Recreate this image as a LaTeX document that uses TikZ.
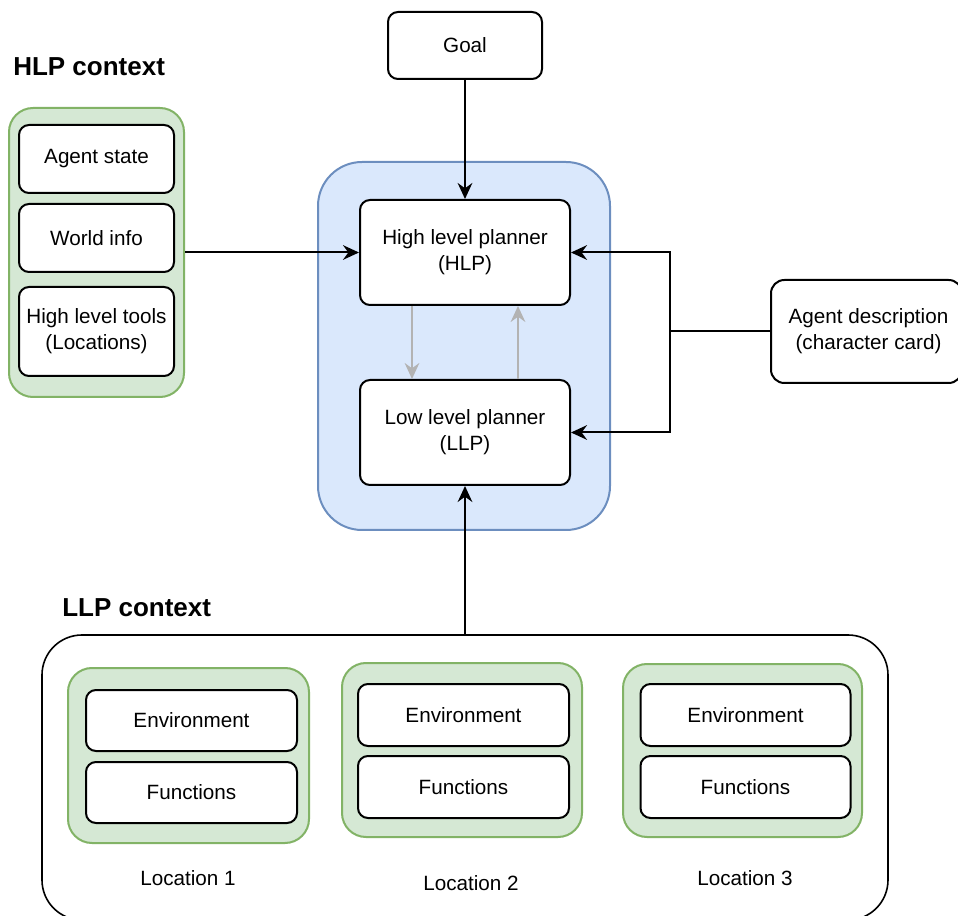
\documentclass[tikz,border=0pt]{standalone}
\usepackage{fontspec}
\setmainfont{Liberation Sans}
\usetikzlibrary{arrows.meta,calc}
\definecolor{gfill}{HTML}{D5E8D4}
\definecolor{gline}{HTML}{82B366}
\definecolor{bfill}{HTML}{DAE8FC}
\definecolor{bline}{HTML}{6C8EBF}
\definecolor{garrow}{HTML}{B3B3B3}
\begin{document}
\begin{tikzpicture}[x=0.75pt,y=-0.75pt,
  txt/.style={font=\fontsize{15.5}{19.5}\selectfont, align=center},
  box/.style={txt, draw=black, line width=1.5pt, fill=white, rounded corners=7.5pt, inner sep=0pt},
  gbox/.style={draw=gline, line width=1.5pt, fill=gfill, rounded corners=18pt, inner sep=0pt},
  bbox/.style={draw=bline, line width=1.5pt, fill=bfill, rounded corners=33pt, inner sep=0pt},
  obox/.style={draw=black, line width=1.2pt, fill=white, rounded corners=30pt, inner sep=0pt},
  title/.style={font=\bfseries\fontsize{19.5}{23}\selectfont, inner sep=0pt},
  arr/.style={draw=black, line width=1.5pt, -{Stealth[length=12pt,width=11pt,inset=4pt]}},
  line/.style={draw=black, line width=1.5pt},
  garr/.style={draw=garrow, line width=1.2pt, -{Stealth[length=12pt,width=11pt,inset=4pt]}}
]
\useasboundingbox (0,0) rectangle (958,916);

% HLP context
\node[title, anchor=base west] (hlpt) at (13,76) {HLP context};
\node[gbox, minimum width=131.25pt, minimum height=216.75pt] (hlpc) at (96.5,252.5) {};
\node[box, minimum width=116.25pt, minimum height=51pt] (agst) at (96.5,159) {Agent state};
\node[box, minimum width=116.25pt, minimum height=51pt] (world) at (96.5,238) {World info};
\node[box, minimum width=116.25pt, minimum height=66.75pt] (tools) at (96.5,331.5) {High level tools\\(Locations)};

% Goal
\node[box, minimum width=115.5pt, minimum height=50.25pt] (goal) at (465,45.5) {Goal};

% planners
\node[bbox, minimum width=219pt, minimum height=276pt] (blue) at (464,346) {};
\node[box, minimum width=157.5pt, minimum height=78.75pt] (hlp) at (465,252.5) {High level planner\\(HLP)};
\node[box, minimum width=157.5pt, minimum height=78.75pt] (llp) at (465,432.5) {Low level planner\\(LLP)};

% agent description
\node[box, rounded corners=10pt, minimum width=143.25pt, minimum height=77.25pt] (agdesc) at (866.5,331.5) {};
\node[txt] (agdesct) at (868.5,331.5) {Agent description\\(character card)};
\coordinate (j) at (670,331.5);

% LLP context
\node[title, anchor=base west] (llpt) at (62,616) {LLP context};
\node[obox, minimum width=634.5pt, minimum height=213.75pt] (outer) at (465,777.5) {};

\node[gbox, minimum width=180.75pt, minimum height=131.25pt] (loc1) at (188.5,755.5) {};
\node[box, minimum width=158.25pt, minimum height=45.75pt] (env1) at (191.5,720.5) {Environment};
\node[box, minimum width=158.25pt, minimum height=45.75pt] (fun1) at (191.5,792.5) {Functions};
\node[txt] (lab1) at (188,878) {Location 1};

\node[gbox, minimum width=180pt, minimum height=130.5pt] (loc2) at (462,750) {};
\node[box, minimum width=158.25pt, minimum height=46.5pt] (env2) at (463.5,715) {Environment};
\node[box, minimum width=158.25pt, minimum height=46.5pt] (fun2) at (463.5,787) {Functions};
\node[txt] (lab2) at (471,883) {Location 2};

\node[gbox, minimum width=179.25pt, minimum height=129.75pt] (loc3) at (742.5,750.5) {};
\node[box, minimum width=157.5pt, minimum height=46.5pt] (env3) at (745.5,715) {Environment};
\node[box, minimum width=157.5pt, minimum height=46.5pt] (fun3) at (745.5,787) {Functions};
\node[txt] (lab3) at (745,878) {Location 3};

% connectors
\draw[arr] (goal) -- (hlp);
\draw[arr] (hlpc) -- (hlp);
\draw[line] (agdesc.west) -- (j);
\draw[arr] (j) |- (hlp.east);
\draw[arr] (j) |- (llp.east);
\draw[arr] (outer.north) -- (llp.south);
\draw[garr] ($(hlp.south west)!.25!(hlp.south east)$) -- ($(llp.north west)!.25!(llp.north east)$);
\draw[garr] ($(llp.north west)!.75!(llp.north east)$) -- ($(hlp.south west)!.75!(hlp.south east)$);
\end{tikzpicture}
\end{document}
